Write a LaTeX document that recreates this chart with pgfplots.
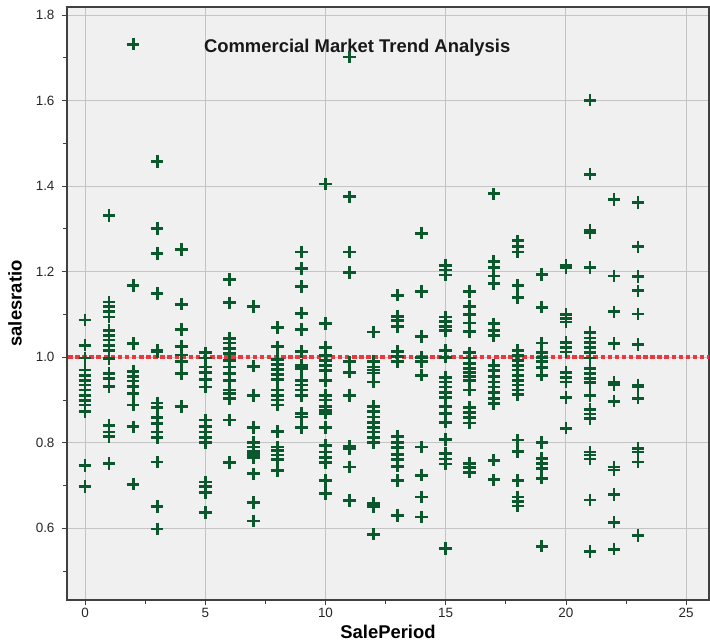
\documentclass[border=0pt]{standalone}
\usepackage{fontspec}
\setmainfont{Liberation Sans}
\usepackage{pgfplots}
\pgfplotsset{compat=1.18}
\definecolor{mkgreen}{RGB}{10,88,44}
\definecolor{refred}{RGB}{232,58,62}
\definecolor{bggray}{RGB}{240,240,240}
\definecolor{gridgray}{RGB}{196,196,196}
\begin{document}
\begin{tikzpicture}
\path[use as bounding box] (0bp,0bp) rectangle (710bp,643bp);
\begin{axis}[
  at={(67bp,43bp)}, anchor=south west,
  scale only axis, width=642bp, height=593bp,
  xmin=-0.75, xmax=25.95, ymin=0.432, ymax=1.819,
  axis background/.style={fill=bggray},
  xtick={0,5,10,15,20,25}, minor xtick={2.5,7.5,12.5,17.5,22.5},
  ytick={0.6,0.8,1.0,1.2,1.4,1.6,1.8}, minor ytick={0.5,0.7,0.9,1.1,1.3,1.5,1.7},
  yticklabel style={/pgf/number format/fixed, /pgf/number format/fixed zerofill, /pgf/number format/precision=1, xshift=-4bp},
  /pgf/number format/assume math mode=true,
  grid=major, major grid style={gridgray, line width=1bp},
  minor grid style={draw=none},
  tick align=outside, tick pos=left,
  major tick length=5bp, minor tick length=4bp,
  every tick/.style={black!75, line width=0.8bp},
  axis line style={black!75, line width=1.2bp},
  ticklabel style={font=\fontsize{13.5}{15}\selectfont, text=black!85},
  xlabel={\textbf{SalePeriod}}, ylabel={\textbf{salesratio}},
  label style={font=\fontsize{18.5}{20}\selectfont},
  xlabel style={at={(axis description cs:0.5,0)}, anchor=center, yshift=-32bp},
  ylabel style={at={(axis description cs:0,0.5)}, anchor=center, rotate=0, yshift=52bp},
]
\addplot[refred, line width=4.5bp, dash pattern=on 4.5bp off 2.6bp, forget plot] coordinates {(-1,1) (27,1)};
\addplot[only marks, mark=+, mark size=6.3bp, mkgreen, mark options={line width=2.8bp}] coordinates {
(0,1.087) (0,1.028) (0,0.998) (0,0.970) (0,0.958) (0,0.946) (0,0.935) (0,0.923) (0,0.911) (0,0.899) (0,0.888) (0,0.872) (0,0.747) (0,0.698)
(1,1.332) (1,1.129) (1,1.118) (1,1.106) (1,1.094) (1,1.063) (1,1.051) (1,1.040) (1,1.028) (1,1.016) (1,0.997) (1,0.962) (1,0.950) (1,0.931) (1,0.841) (1,0.825) (1,0.814) (1,0.751)
(2,1.732) (2,1.168) (2,1.032) (2,0.966) (2,0.954) (2,0.944) (2,0.931) (2,0.915) (2,0.888) (2,0.837) (2,0.703)
(3,1.458) (3,1.301) (3,1.243) (3,1.149) (3,1.016) (3,1.012) (3,0.893) (3,0.882) (3,0.858) (3,0.845) (3,0.825) (3,0.812) (3,0.755) (3,0.650) (3,0.598)
(4,1.252) (4,1.124) (4,1.065) (4,1.025) (4,1.005) (4,0.989) (4,0.962) (4,0.884)
(5,1.010) (5,0.998) (5,0.977) (5,0.965) (5,0.948) (5,0.930) (5,0.853) (5,0.837) (5,0.825) (5,0.813) (5,0.801) (5,0.708) (5,0.697) (5,0.684) (5,0.637)
(6,1.182) (6,1.127) (6,1.044) (6,1.033) (6,1.021) (6,1.009) (6,0.993) (6,0.977) (6,0.962) (6,0.946) (6,0.923) (6,0.915) (6,0.903) (6,0.853) (6,0.754)
(7,1.119) (7,0.979) (7,0.911) (7,0.835) (7,0.800) (7,0.790) (7,0.780) (7,0.772) (7,0.765) (7,0.727) (7,0.660) (7,0.617)
(8,1.070) (8,1.024) (8,0.995) (8,0.983) (8,0.972) (8,0.960) (8,0.948) (8,0.923) (8,0.911) (8,0.900) (8,0.888) (8,0.826) (8,0.790) (8,0.782) (8,0.771) (8,0.760) (8,0.735)
(9,1.246) (9,1.207) (9,1.165) (9,1.103) (9,1.065) (9,1.013) (9,0.981) (9,0.973) (9,0.946) (9,0.935) (9,0.923) (9,0.911) (9,0.869) (9,0.860) (9,0.836)
(10,1.405) (10,1.079) (10,1.023) (10,1.003) (10,0.993) (10,0.981) (10,0.968) (10,0.946) (10,0.911) (10,0.900) (10,0.884) (10,0.876) (10,0.869) (10,0.836) (10,0.794) (10,0.778) (10,0.766) (10,0.754) (10,0.712) (10,0.681)
(11,1.702) (11,1.375) (11,1.246) (11,1.198) (11,0.989) (11,0.965) (11,0.911) (11,0.791) (11,0.785) (11,0.743) (11,0.665)
(12,1.059) (12,0.990) (12,0.977) (12,0.970) (12,0.963) (12,0.942) (12,0.884) (12,0.872) (12,0.860) (12,0.848) (12,0.836) (12,0.825) (12,0.813) (12,0.800) (12,0.658) (12,0.650) (12,0.586)
(13,1.145) (13,1.096) (13,1.085) (13,1.072) (13,1.013) (13,1.002) (13,0.990) (13,0.815) (13,0.800) (13,0.788) (13,0.773) (13,0.760) (13,0.745) (13,0.712) (13,0.630)
(14,1.290) (14,1.154) (14,1.049) (14,1.000) (14,0.989) (14,0.958) (14,0.790) (14,0.724) (14,0.673) (14,0.626)
(15,1.215) (15,1.204) (15,1.192) (15,1.094) (15,1.084) (15,1.072) (15,1.062) (15,1.016) (15,1.000) (15,0.953) (15,0.942) (15,0.930) (15,0.918) (15,0.905) (15,0.885) (15,0.868) (15,0.848) (15,0.808) (15,0.775) (15,0.762) (15,0.750) (15,0.553)
(16,1.153) (16,1.118) (16,1.100) (16,1.080) (16,1.060) (16,1.010) (16,0.998) (16,0.985) (16,0.973) (16,0.965) (16,0.955) (16,0.945) (16,0.923) (16,0.882) (16,0.870) (16,0.858) (16,0.846) (16,0.752) (16,0.741) (16,0.731)
(17,1.382) (17,1.224) (17,1.210) (17,1.190) (17,1.172) (17,1.078) (17,1.062) (17,1.050) (17,0.981) (17,0.968) (17,0.955) (17,0.942) (17,0.930) (17,0.918) (17,0.904) (17,0.892) (17,0.759) (17,0.713)
(18,1.272) (18,1.258) (18,1.246) (18,1.168) (18,1.140) (18,1.015) (18,1.003) (18,0.993) (18,0.981) (18,0.970) (18,0.958) (18,0.946) (18,0.935) (18,0.923) (18,0.912) (18,0.806) (18,0.780) (18,0.712) (18,0.673) (18,0.662) (18,0.652)
(19,1.194) (19,1.117) (19,1.033) (19,1.010) (19,1.000) (19,0.990) (19,0.975) (19,0.958) (19,0.800) (19,0.763) (19,0.752) (19,0.740) (19,0.717) (19,0.558)
(20,1.215) (20,1.210) (20,1.100) (20,1.090) (20,1.082) (20,1.035) (20,1.023) (20,1.012) (20,0.965) (20,0.953) (20,0.942) (20,0.905) (20,0.834)
(21,1.601) (21,1.428) (21,1.297) (21,1.291) (21,1.209) (21,1.057) (21,1.045) (21,1.035) (21,1.023) (21,1.010) (21,0.998) (21,0.973) (21,0.962) (21,0.950) (21,0.940) (21,0.911) (21,0.878) (21,0.867) (21,0.857) (21,0.778) (21,0.771) (21,0.762) (21,0.666) (21,0.546)
(22,1.369) (22,1.190) (22,1.106) (22,1.032) (22,0.942) (22,0.936) (22,0.897) (22,0.743) (22,0.736) (22,0.679) (22,0.614) (22,0.551)
(23,1.362) (23,1.258) (23,1.188) (23,1.155) (23,1.101) (23,1.030) (23,0.935) (23,0.930) (23,0.904) (23,0.787) (23,0.778) (23,0.755) (23,0.583)
};
\node[font=\bfseries\fontsize{18.5}{20}\selectfont, text=black!90] at (axis description cs:0.452,0.931) {Commercial Market Trend Analysis};
\end{axis}
\end{tikzpicture}
\end{document}
